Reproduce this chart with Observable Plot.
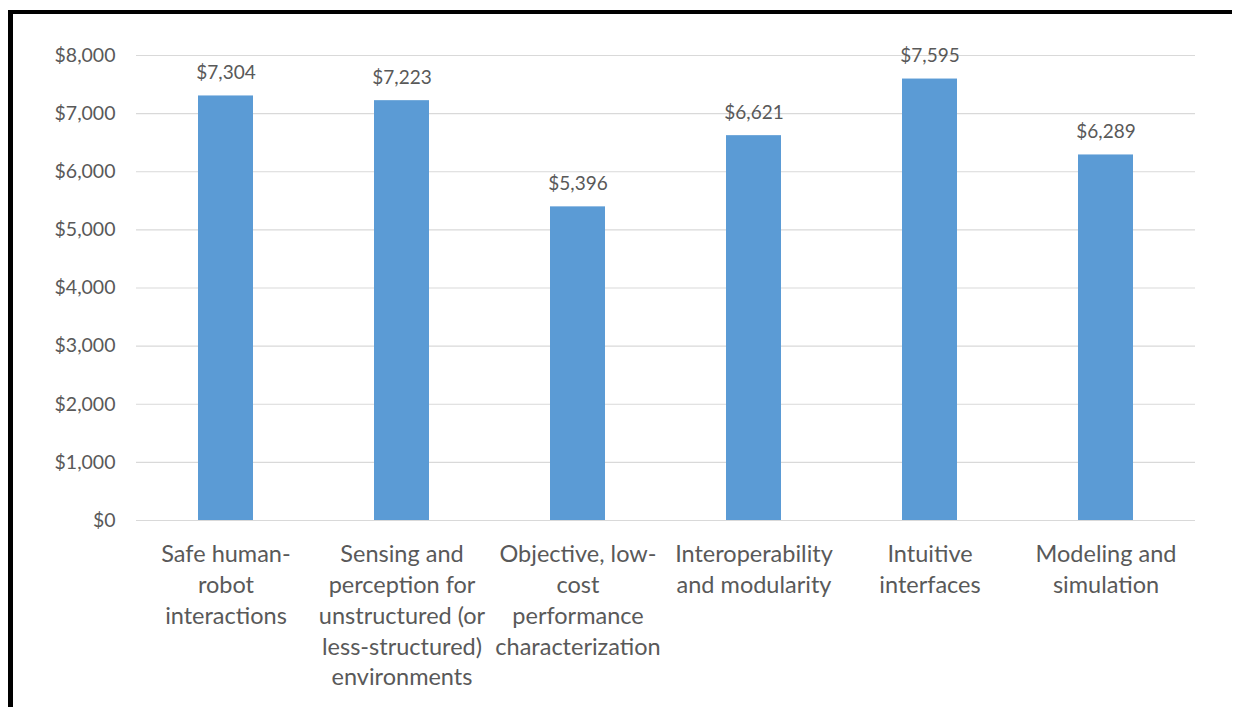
<!DOCTYPE html>
<html>
<head>
<meta charset="utf-8">
<script src="https://cdn.jsdelivr.net/npm/d3@7"></script>
<script src="https://cdn.jsdelivr.net/npm/@observablehq/plot@0.6"></script>
<style>
  html, body { margin: 0; padding: 0; background: #fff; overflow: hidden; }
  #wrap { position: relative; width: 1233px; height: 707px; overflow: hidden; }
  #wrap svg { position: absolute; left: 0; top: 0; }
  .edge { position: absolute; background: #000; pointer-events: none; }
  #edge-top { left: 8px; top: 10px; width: 1224px; height: 4px; }
  #edge-left { left: 8px; top: 10px; width: 5px; height: 697px; }
</style>
</head>
<body>
<div id="wrap"><div class="edge" id="edge-top"></div><div class="edge" id="edge-left"></div></div>
<script>
// Average funding per technology area
const categories = [
  "Safe human-robot interactions",
  "Sensing and perception for unstructured (or less-structured) environments",
  "Objective, low-cost performance characterization",
  "Interoperability and modularity",
  "Intuitive interfaces",
  "Modeling and simulation"
];
const values = [7304, 7223, 5396, 6621, 7595, 6289];
// Category labels as they wrap under each bar
const categoryLabels = [
  "Safe human-\nrobot\ninteractions",
  "Sensing and\nperception for\nunstructured (or\nless-structured)\nenvironments",
  "Objective, low-\ncost\nperformance\ncharacterization",
  "Interoperability\nand modularity",
  "Intuitive\ninterfaces",
  "Modeling and\nsimulation"
];
const yTicks = [0, 1000, 2000, 3000, 4000, 5000, 6000, 7000, 8000];

const rows = categories.map((c, i) => ({category: c, value: values[i]}));
const labelOf = new Map(categories.map((c, i) => [c, categoryLabels[i]]));
const dollars = d3.format("$,");
const textColor = "#595959";

const chart = Plot.plot({
  width: 1233,
  height: 707,
  marginLeft: 136,
  marginRight: 38,
  marginTop: 55,
  marginBottom: 187,
  style: {fontFamily: "Lato, sans-serif", background: "transparent"},
  x: {domain: categories, paddingInner: 0.69, paddingOuter: 0.345, axis: null},
  y: {domain: [0, 8000], axis: null},
  marks: [
    Plot.ruleY(yTicks, {stroke: "#D9D9D9", strokeWidth: 1.2}),
    Plot.barY(rows, {x: "category", y: "value", fill: "#5B9BD5"}),
    Plot.text(rows, {
      x: "category", y: "value", text: d => dollars(d.value),
      dy: -23, fontSize: 19, fill: textColor
    }),
    Plot.axisY({
      ticks: yTicks, tickSize: 0, tickPadding: 21, tickFormat: dollars,
      fontSize: 19.5, color: textColor, label: null
    }),
    Plot.axisX({
      ticks: categories, tickSize: 0, tickPadding: 20,
      tickFormat: d => labelOf.get(d),
      fontSize: 23.5, lineHeight: 30.75 / 23.5, color: textColor, label: null
    })
  ]
});
document.getElementById("wrap").prepend(chart);
</script>
</body>
</html>
